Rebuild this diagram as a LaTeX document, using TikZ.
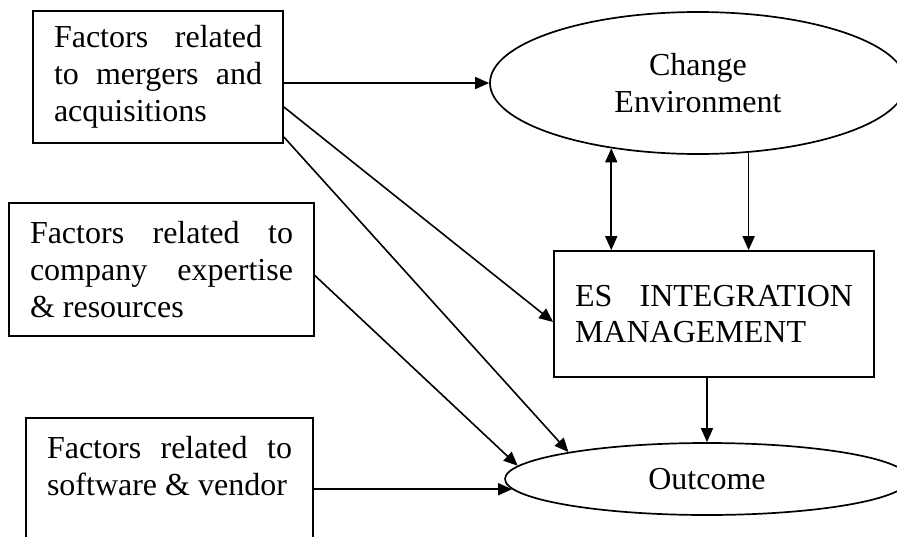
\documentclass[tikz,border=0pt]{standalone}
\usepackage{fontspec}
\setmainfont{Liberation Serif}
\usetikzlibrary{shapes.geometric,arrows.meta}
\hyphenpenalty=10000
\tolerance=10000
\tikzstyle{factor}=[rectangle, draw, line width=1.7pt, align=justify, inner xsep=21pt, inner ysep=0pt]
\tikzstyle{stage}=[ellipse, draw, line width=1.7pt, align=center, inner sep=0pt]

\begin{document}
\begin{tikzpicture}[x=1pt, y=-1pt, line width=1.6pt, >={Triangle[length=14pt,width=12pt]},
    every node/.style={font=\fontsize{32pt}{36.8pt}\selectfont}]
                    \clip (0,0) rectangle (897,536);
                    \node[factor, text width=208pt, minimum height=132pt] (f1) at (158,77)
                        {Factors related to mergers and acquisitions};
                    \node[factor, text width=263pt, minimum height=133pt] (f2) at (161.5,269.5)
                        {Factors related to company expertise \& resources};
                    \node[factor, text width=245pt, minimum height=132pt] (f3) at (169.5,484)
                        {Factors related to software \& vendor\\\mbox{}};
                    \node[stage, minimum width=416pt, minimum height=142pt] (env) at (698,83) {Change\\Environment};
                    \node[factor, text width=278pt, minimum height=126pt] (es) at (714,314)
                        {ES INTEGRATION MANAGEMENT};
                    \node[stage, minimum width=404pt, minimum height=72pt] (out) at (707,479) {Outcome};
                    \draw[->] (f1.east |- env.west) -- (env.west);
                    \draw[->] ([yshift=-30pt]f1.east) -- ([yshift=-8pt]es.west);
                    \draw[->] ([yshift=-60pt]f1.east) -- (out.169);
                    \draw[->] ([yshift=-6pt]f2.east) -- (out.176);
                    \draw[->] (f3.east |- out.183) -- (out.183);
                    \draw[<->] (env.217) -- (env.217 |- es.north);
                    \draw[->] (env.-54) -- (env.-54 |- es.north);
                    \draw[->] (es.south -| out.north) -- (out.north);
                \end{tikzpicture}
\end{document}
